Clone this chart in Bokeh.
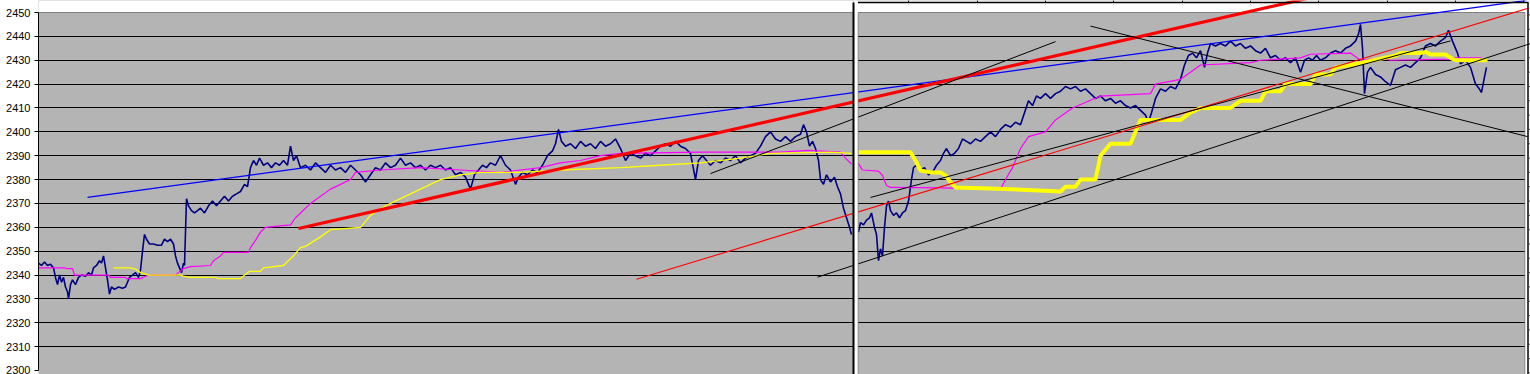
from bokeh.plotting import figure
from bokeh.models import Range1d, FixedTicker, BoxAnnotation, Span
from bokeh.embed import file_html
from bokeh.resources import INLINE

# ---------------- data (time index, price) ----------------
price_left_t = [0,3,6,9,12,15,17,19,21,23,25,27,29,30,32,34,37,40,43,47,50,53,55,58,61,63,65,67,69,71,73,76,80,84,87,89,91,94,97,100,102,104,106,108,111,115,119,123,126,129,132,135,137,139,141,143,145,146,148,150,153,156,159,162,166,170,174,178,182,186,190,194,198,202,206,209,212,215,218,221,225,229,233,237,241,245,249,252,255,258,262,267,272,277,282,287,292,297,302,307,312,317,322,327,332,337,342,347,352,357,362,367,372,377,382,387,392,397,402,407,412,417,422,427,432,436,440,444,448,452,457,462,467,472,477,480,484,489,494,499,504,509,514,517,520,523,527,532,537,542,547,552,557,562,567,572,577,582,587,592,597,602,607,612,617,622,627,632,637,642,647,652,657,660,664,668,672,677,682,687,692,697,702,707,712,717,722,727,732,737,742,747,752,757,762,765,768,771,774,777,780,782,785,788,792,796,799,802,805,808,811,813]
price_left_v = [2345,2344,2345.5,2344,2344.5,2343,2339,2336,2340,2337,2339,2335,2333,2330,2336,2338,2336,2339,2340,2339.5,2341,2340,2343,2344,2346,2345,2348,2343,2338,2332,2335,2334,2335,2334.5,2335,2337,2339,2340,2341,2339,2342,2350,2357,2355,2353,2353,2352.5,2352.5,2355,2354,2355,2353,2348,2345,2343,2341,2345,2344,2372,2369,2367,2366,2367,2368,2366,2369,2371,2369,2371,2373,2371,2373,2374,2375,2378,2377,2385,2388,2386,2389,2386,2387,2385,2387,2386,2388,2386,2394,2388,2390,2385,2386,2384,2387,2385,2383,2386,2384,2385,2383,2386,2384,2382,2379,2382,2385,2384,2387,2385,2386,2389,2386,2387,2385,2386,2384,2386,2385,2386,2384,2385,2382,2383,2381,2376,2382,2384,2386,2385,2387,2386,2390,2386,2384,2378,2381,2383,2382,2384,2383,2386,2390,2392,2395,2401,2396,2394,2395,2393,2396,2394,2395,2393,2396,2394,2395,2397,2393,2388,2391,2390,2389,2391,2390,2392,2394,2395,2394,2396,2394,2393,2391,2380,2388,2390,2388,2386,2388,2387,2389,2388,2390,2387,2389,2390,2391,2394,2398,2400,2397,2396,2398,2396,2398,2399,2403,2400,2394,2396,2393,2388,2380,2378,2382,2379,2381,2377,2374,2368,2364,2360,2357]

price_right_t = [820,822,825,828,831,833,836,838,840,842,844,846,848,850,852,855,858,861,864,867,870,873,875,878,882,886,890,894,898,902,905,908,912,916,920,924,928,932,937,942,947,952,957,962,967,972,977,982,986,990,994,998,1002,1007,1012,1017,1022,1027,1032,1037,1042,1047,1052,1057,1062,1067,1072,1077,1082,1087,1092,1097,1102,1107,1110,1113,1117,1122,1127,1132,1137,1142,1146,1150,1154,1158,1162,1166,1169,1172,1177,1182,1187,1192,1197,1202,1207,1212,1217,1222,1227,1232,1237,1242,1247,1252,1257,1262,1266,1270,1274,1278,1282,1287,1292,1297,1302,1307,1312,1317,1320,1322,1324,1326,1329,1332,1337,1342,1347,1352,1357,1362,1367,1372,1377,1382,1387,1392,1397,1402,1407,1410,1414,1419,1422,1427,1432,1437,1440,1443,1446,1448]
price_right_v = [2358,2362,2361,2363,2364,2366,2360,2357,2346,2351,2348,2360,2369,2371,2367,2365,2366,2364,2366,2367,2371,2380,2385,2386,2384,2385,2382,2383,2386,2388,2391,2393,2390,2391,2393,2397,2396,2395,2397,2396,2398,2400,2398,2401,2403,2402,2404,2403,2408,2413,2411,2415,2414,2416,2414,2416,2417,2419,2418,2419,2417,2418,2416,2414,2415,2413,2414,2412,2413,2411,2410,2411,2409,2407,2404,2408,2414,2418,2417,2419,2418,2422,2428,2432,2433,2431,2434,2427,2433,2437,2436,2437,2436,2438,2436,2437,2435,2436,2434,2433,2435,2431,2432,2430,2431,2429,2431,2425,2430,2431,2430,2432,2430,2431,2433,2434,2433,2435,2436,2438,2441,2445,2435,2416,2425,2427,2424,2423,2421,2419.5,2426,2427,2428,2427,2429,2431,2436,2437,2436,2438,2439.5,2442.5,2438,2433,2428.5,2430,2427,2420,2418.5,2416.5,2423,2427]

mag_left_t = [0,27,28,34,36,70,72,87,88,102,107,112,137,140,145,152,172,175,182,185,210,212,217,222,227,252,257,262,272,282,292,302,312,317,342,382,422,462,502,522,542,562,582,662,742,770,802,807,813]
mag_left_v = [2343,2343,2342.7,2342.7,2340,2340,2339,2339,2338.5,2338.5,2339.5,2340,2340,2341,2342.7,2343.5,2344,2346,2348,2349.5,2349.5,2351.5,2354.5,2358,2360,2361,2364,2366,2370,2373,2376,2378,2380,2383,2384,2385,2384,2383,2385,2387,2388,2390,2391,2391.5,2391.5,2392.2,2391.5,2389,2386.5]
mag_right_t = [820,824,840,844,848,852,902,962,967,974,982,990,1007,1017,1034,1062,1112,1117,1142,1152,1162,1212,1222,1262,1272,1312,1322,1342,1352,1412,1415,1442,1447]
mag_right_v = [2386.7,2384,2383.5,2381.7,2377.5,2376.7,2376.5,2376,2380,2385,2393,2398,2400,2405,2410,2415,2416,2420,2422,2425,2428,2429,2430,2431,2432.5,2433,2430,2431,2430,2430.5,2431,2431,2430]

yel_left_t = [75,92,97,102,110,142,145,152,177,180,202,207,211,222,225,245,249,255,259,262,267,282,292,322,332,347,362,382,402,422,442,482,522,582,622,662,702,732,792,813]
yel_left_v = [2343,2343,2342.5,2341,2340,2340,2339.5,2339,2339,2338.5,2338.5,2340.3,2341.5,2341.5,2343,2344,2345.7,2348,2350,2351.5,2352,2356,2359,2360,2365,2369,2372,2376,2380,2382,2383,2383,2384,2385,2386,2387,2389,2391,2391.5,2391]
yel_right_t = [820,872,877,882,892,902,907,912,917,952,1022,1027,1037,1042,1057,1062,1072,1092,1097,1102,1142,1152,1162,1192,1202,1222,1227,1242,1247,1272,1277,1292,1297,1312,1342,1357,1362,1382,1387,1392,1407,1412,1417,1449]
yel_right_v = [2391.4,2391.4,2388,2383.8,2383,2383,2381.7,2379,2376.7,2376.3,2375,2377,2377,2380,2380,2390,2395,2395,2400,2405,2405,2408,2410,2410,2413,2413,2417,2417,2420,2420,2424,2424,2427,2428,2430.6,2432,2433,2433,2433.5,2432.4,2432.4,2431,2430,2430]

# trend lines: (t0, v0, t1, v1)
trend_blue = [49, 2372.5, 1487, 2455.0]
trend_red_thick = [260, 2359.5, 1272, 2456.2]
trend_red_thin = [598, 2338.2, 1489, 2451.7]
trend_black = [
    [672, 2382.5, 1017, 2437.8],
    [779, 2339.1, 1492, 2437.0],
    [832, 2372.5, 1412, 2438.1],
    [1052, 2444.3, 1489, 2398.0],
]

y_ticks = list(range(2300, 2451, 10))
top_ticks_t = [870, 939, 1007, 1075, 1144, 1212, 1280, 1349, 1417, 1485]
side_ticks_v = [2449 - 6 * k for k in range(26)]

# ---------------- figure ----------------
p = figure(width=1530, height=374, x_range=Range1d(0, 1492),
           y_range=Range1d(2298.324, 2455.028),
           output_backend="svg", toolbar_location=None, x_axis_location=None,
           min_border_left=38, min_border_right=0, min_border_top=0, min_border_bottom=0,
           background_fill_color="#b4b4b4", border_fill_color="white",
           outline_line_color=None)

p.yaxis.ticker = FixedTicker(ticks=y_ticks)
p.yaxis.bounds = (2300, 2450)
p.yaxis.major_tick_out = 4
p.yaxis.major_tick_in = 0
p.yaxis.minor_tick_line_color = None
p.yaxis.axis_line_color = "black"
p.yaxis.major_tick_line_color = "black"
p.yaxis.major_label_text_font = "Liberation Sans"
p.yaxis.major_label_text_font_size = "11px"
p.yaxis.major_label_text_color = "black"
p.yaxis.major_label_standoff = 4

p.xgrid.visible = False
p.ygrid.ticker = FixedTicker(ticks=y_ticks[1:-1])
p.ygrid.grid_line_color = "black"
p.ygrid.grid_line_width = 1

# white band above the plot area
p.add_layout(BoxAnnotation(bottom=2450, fill_color="white", fill_alpha=1, line_alpha=0, level="underlay"))
p.add_layout(Span(location=2450, dimension="width", line_color="#808080", line_width=1, level="underlay"))
# right edge of second chart
p.add_layout(BoxAnnotation(left=1486.5, fill_color="white", fill_alpha=1, line_alpha=0, level="underlay"))
p.add_layout(BoxAnnotation(left=1486, right=1486.8, top=2450, fill_color="#808080", fill_alpha=1, line_alpha=0, level="underlay"))

# series
p.line(price_left_t, price_left_v, line_color="#000080", line_width=1.6)
p.line(price_right_t, price_right_v, line_color="#000080", line_width=1.6)
p.line(mag_left_t, mag_left_v, line_color="#ff00ff", line_width=1.2)
p.line(mag_right_t, mag_right_v, line_color="#ff00ff", line_width=1.2)
p.line(yel_left_t, yel_left_v, line_color="#ffff00", line_width=1.3)
p.line(yel_right_t, yel_right_v, line_color="#ffff00", line_width=4)

p.line(trend_blue[0::2], trend_blue[1::2], line_color="#0000ff", line_width=1.2)
p.line(trend_red_thick[0::2], trend_red_thick[1::2], line_color="#ff0000", line_width=3.2)
p.line(trend_red_thin[0::2], trend_red_thin[1::2], line_color="#ff0000", line_width=1.1)
for tl in trend_black:
    p.line(tl[0::2], tl[1::2], line_color="black", line_width=1)

# frame of second chart (top line, top ticks, right line and left separator)
p.segment(x0=[815], y0=[2454.19], x1=[1490], y1=[2454.19], line_color="black", line_width=1.5)
p.segment(x0=top_ticks_t, y0=[2454.19] * len(top_ticks_t), x1=top_ticks_t,
          y1=[2455.1] * len(top_ticks_t), line_color="black", line_width=1)
p.segment(x0=[1489.5], y0=[2298.3], x1=[1489.5], y1=[2454.19], line_color="black", line_width=1.5)
p.segment(x0=[1490] * len(side_ticks_v), y0=side_ticks_v, x1=[1492] * len(side_ticks_v),
          y1=side_ticks_v, line_color="#404040", line_width=1)
p.add_layout(BoxAnnotation(left=815.5, right=819.5, fill_color="white", fill_alpha=1, line_alpha=0))
p.add_layout(BoxAnnotation(left=814, right=816, top=2454.19, fill_color="black", fill_alpha=1, line_alpha=0))
p.add_layout(BoxAnnotation(left=819.2, right=820, top=2450, fill_color="#808080", fill_alpha=1, line_alpha=0))

open("out.html", "w").write(file_html(p, INLINE))
